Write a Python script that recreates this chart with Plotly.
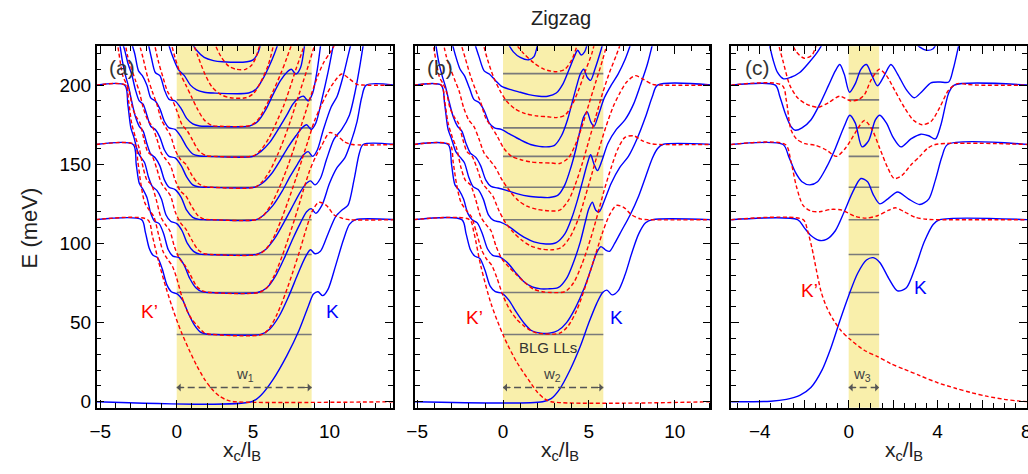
import plotly.graph_objects as go

# ---------------- data ----------------
BLG_LL = [42.5, 69, 93, 115, 135.5, 155, 173, 190.7, 207.3]   # gray BLG Landau levels (meV)
W_A, W_B, W_C = 8.83, 5.84, 1.37                              # strip widths (x_c / l_B)

# Panel (a): K valley (blue, solid), lists of (x_c/l_B, E[meV])
A_K0 = [(-5.3,0),(4.9,0),(5.5,4),(6.3,14),(7.2,29),(8.0,45),(8.6,60),(8.95,68),(9.25,69.5),(9.55,67),(9.9,71),(10.4,86),(10.9,102),(11.3,112),(11.7,115),(14.3,115)]
A_K1 = [(-5.3,115),(-2.3,115),(-2.05,107),(-1.8,97),(-1.55,92.5),(-1.25,91),(-0.95,84),(-0.65,74),(-0.35,69.5),(0.05,68),(0.4,64),(0.75,56),(1.15,48.5),(1.55,44),(2.0,42.6),(2.5,42.5),(5.5,42.5),(6.1,46),(6.7,54),(7.3,66),(7.9,80),(8.4,91),(8.75,96),(9.05,93.5),(9.4,95),(9.9,106),(10.4,117),(10.8,121),(11.2,124),(11.6,140),(11.95,157),(12.2,162.5),(14.3,162.5)]
A_K2 = [(-5.3,162.5),(-2.85,162.5),(-2.65,150),(-2.45,138),(-2.2,134),(-1.95,129),(-1.7,119),(-1.45,114),(-1.15,112.5),(-0.85,106),(-0.55,96),(-0.25,92),(0.15,91),(0.5,86),(0.85,78),(1.25,72),(1.65,69.5),(2.1,69),(5.3,69),(5.9,72),(6.5,80),(7.1,92),(7.6,103),(8.1,113),(8.5,120),(8.8,122),(9.1,119),(9.5,124),(10.0,138),(10.5,148),(11.0,154),(11.4,164),(11.8,177),(12.1,192),(12.4,200),(14.3,200)]
A_K3 = [(-5.3,200),(-3.4,200),(-3.2,188),(-3.0,173),(-2.8,167),(-2.55,158),(-2.35,154.5),(-2.1,151),(-1.85,142),(-1.6,136),(-1.3,133.5),(-1.0,128),(-0.7,118),(-0.4,114),(0.0,112.5),(0.35,108),(0.7,100),(1.1,95),(1.5,93.2),(2.0,93),(5.2,93),(5.8,96),(6.4,103),(7.0,113),(7.5,122),(8.0,131),(8.4,137),(8.75,139.5),(9.05,137),(9.4,141),(9.8,153),(10.3,166),(10.8,172),(11.3,181),(11.7,197),(12.0,213),(12.25,228)]
A_K4 = [(-3.75,228),(-3.55,215),(-3.35,206),(-3.15,199),(-2.95,190),(-2.7,180),(-2.45,174),(-2.2,171),(-1.95,163),(-1.7,156.5),(-1.4,154),(-1.1,149),(-0.8,140),(-0.5,135.5),(-0.1,134),(0.3,129),(0.65,121),(1.05,116.5),(1.45,115.2),(1.9,115),(5.2,115),(5.7,118),(6.3,124),(6.9,133),(7.4,142),(7.9,150),(8.3,156),(8.6,158),(8.9,155),(9.2,159),(9.6,172),(10.1,186),(10.5,193),(10.9,206),(11.2,218),(11.45,228)]
A_K5 = [(-3.6,228),(-3.4,222),(-3.2,214),(-2.95,207),(-2.7,197),(-2.45,190),(-2.2,188),(-1.95,181),(-1.7,174),(-1.4,172),(-1.1,167),(-0.8,159),(-0.5,155),(-0.1,154),(0.3,149),(0.65,142),(1.05,137),(1.45,135.7),(1.9,135.5),(5.1,135.5),(5.6,138),(6.2,144),(6.8,153),(7.3,161),(7.8,168),(8.2,173),(8.5,175),(8.8,172),(9.1,176),(9.5,191),(9.9,208),(10.3,228)]
A_K6 = [(-3.0,228),(-2.75,220),(-2.5,209),(-2.25,206),(-1.95,200),(-1.7,192),(-1.4,190),(-1.1,185),(-0.8,177),(-0.5,173),(-0.1,172),(0.3,167),(0.65,161),(1.05,156.5),(1.5,155.2),(2.0,155),(5.0,155),(5.5,158),(6.1,164),(6.7,173),(7.2,181),(7.6,188),(8.0,192),(8.3,193),(8.6,190),(8.9,195),(9.2,210),(9.45,228)]
A_K7 = [(-1.9,228),(-1.65,217),(-1.4,208),(-1.1,206),(-0.8,197),(-0.5,191),(-0.1,190),(0.3,185),(0.65,179),(1.05,175.5),(1.5,174.2),(2.0,174),(4.8,174.3),(5.3,177),(5.8,184),(6.3,194),(6.8,203),(7.2,208),(7.5,210),(7.8,207),(8.1,211),(8.4,228)]
A_K8 = [(-0.6,228),(-0.3,219),(0.1,210),(0.5,206),(0.9,200),(1.3,197),(1.8,195.5),(2.4,195),(4.7,195),(5.2,197.5),(5.7,205),(6.1,213),(6.4,220),(6.7,228)]
A_K9 = [(0.9,228),(1.3,222),(1.8,217.5),(2.4,215.5),(3.0,214.8),(4.6,214.8),(5.0,216),(5.3,220),(5.55,228)]

# Panel (a): K' valley (red, dashed)
A_P0 = [(-5.3,115),(-1.9,115),(-1.6,105),(-1.2,89),(-0.7,72),(-0.2,57),(0.3,44),(0.8,33),(1.3,23),(1.8,14.5),(2.3,8),(2.8,3.5),(3.3,1),(3.8,0),(14.3,0)]
A_P1 = [(-5.3,162.5),(-2.75,162.5),(-2.55,152),(-2.35,138),(-2.1,126),(-1.8,121),(-1.5,117),(-1.2,106),(-0.9,95),(-0.6,90),(-0.3,86),(0.0,78),(0.35,66),(0.7,57),(1.0,52),(1.35,48),(1.8,43.5),(2.3,42.5),(5.6,42.5),(6.1,47),(6.6,56),(7.1,68),(7.6,82),(8.1,97),(8.5,110),(8.9,121),(9.3,126),(9.8,124),(10.3,118),(10.8,116),(11.3,115),(14.3,115)]
A_P2 = [(-5.3,200),(-3.35,200),(-3.15,190),(-2.95,176),(-2.7,167),(-2.45,160),(-2.2,148),(-1.95,140),(-1.65,137),(-1.35,128),(-1.05,117),(-0.75,112),(-0.45,108),(-0.15,98),(0.2,90),(0.55,86),(0.9,80),(1.3,73),(1.7,70),(2.2,69),(5.4,69),(5.9,72),(6.4,80),(6.9,92),(7.4,106),(7.9,121),(8.3,134),(8.7,146),(9.1,155),(9.5,162),(10.0,170),(10.5,168),(11.0,164),(11.5,162.5),(14.3,162.5)]
A_P3 = [(-3.9,228),(-3.7,215),(-3.5,205),(-3.3,201),(-3.1,196),(-2.9,186),(-2.65,180),(-2.4,176),(-2.15,166),(-1.9,158),(-1.6,155),(-1.3,147),(-1.0,138),(-0.7,134),(-0.4,130),(-0.1,120),(0.25,113),(0.6,109),(1.0,102),(1.4,96),(1.8,93.5),(2.3,93),(5.3,93),(5.8,96),(6.3,103),(6.8,114),(7.3,127),(7.8,141),(8.2,153),(8.6,165),(9.0,177),(9.4,186),(9.8,194),(10.3,202),(10.8,207),(11.3,204),(11.8,200.5),(12.3,200),(14.3,200)]
A_P4 = [(-3.4,228),(-3.2,218),(-2.95,210),(-2.7,203),(-2.45,196),(-2.2,186),(-1.9,178),(-1.6,174),(-1.3,166),(-1.0,157),(-0.7,153),(-0.4,149),(-0.1,140),(0.25,133),(0.6,130),(1.0,123),(1.4,117.5),(1.8,115.3),(2.3,115),(5.2,115),(5.7,118),(6.2,125),(6.7,135),(7.2,147),(7.6,158),(8.0,170),(8.4,182),(8.8,194),(9.2,205),(9.6,214),(10.0,220),(10.5,228)]
A_P5 = [(-2.5,228),(-2.2,217),(-1.9,205),(-1.6,196),(-1.3,188),(-1.0,178),(-0.7,173),(-0.4,168),(-0.1,159),(0.25,153),(0.6,150),(1.0,143),(1.4,138),(1.8,136),(2.3,135.5),(5.1,135.5),(5.6,139),(6.1,146),(6.6,156),(7.1,168),(7.5,179),(7.9,191),(8.3,203),(8.7,215),(9.1,228)]
A_P6 = [(-1.5,228),(-1.2,215),(-0.9,205),(-0.6,196),(-0.3,191),(0.0,184),(0.35,175),(0.7,171),(1.05,165),(1.45,158.5),(1.9,155.5),(2.4,155),(5.0,155.3),(5.5,159),(6.0,166),(6.5,176),(7.0,187),(7.4,198),(7.8,210),(8.2,221),(8.4,228)]
A_P7 = [(-0.4,228),(-0.1,217),(0.25,207),(0.6,200),(0.95,193),(1.35,185),(1.8,178),(2.3,174.5),(2.9,174),(4.8,174.5),(5.3,178),(5.8,186),(6.3,196),(6.8,207),(7.2,217),(7.6,228)]
A_P8 = [(1.0,228),(1.4,218),(1.8,208),(2.3,199),(2.9,194),(3.5,192),(4.5,192),(5.0,194.5),(5.5,202),(6.0,213),(6.4,228)]
A_P9 = [(2.4,228),(2.9,218),(3.4,212),(3.9,210),(4.5,210),(4.9,212.5),(5.2,218),(5.5,228)]

# Panel (b): K valley
B_K0 = [(-5.2,0),(2.3,0),(2.8,2),(3.3,8),(3.9,20),(4.5,35),(5.0,50),(5.45,62),(5.8,69),(6.05,70.5),(6.35,67.5),(6.7,70),(7.1,80),(7.5,94),(7.9,106),(8.3,113),(8.7,115),(12.2,115)]
B_K1 = [(-5.2,115),(-2.4,115),(-2.15,106),(-1.9,96),(-1.65,92),(-1.35,90.5),(-1.05,83),(-0.75,73),(-0.45,69.5),(-0.05,68.5),(0.35,64),(0.75,57),(1.2,50),(1.65,45),(2.2,43.3),(2.7,43.3),(3.2,45),(3.7,50),(4.2,59),(4.7,71),(5.1,83),(5.45,94),(5.7,98),(5.95,96),(6.2,95),(6.5,100),(6.9,108),(7.4,118),(7.9,130),(8.3,142),(8.7,154),(9.0,160),(9.3,162.5),(12.2,162.5)]
B_K2 = [(-5.2,162.5),(-3.2,162.5),(-3.0,150),(-2.8,137),(-2.55,133.5),(-2.3,128),(-2.05,119),(-1.8,115),(-1.5,113),(-1.2,106),(-0.9,96.5),(-0.6,92.5),(-0.2,91.5),(0.25,88),(0.7,82),(1.2,76),(1.7,72.5),(2.2,71.3),(2.6,71.3),(3.2,72),(3.7,78),(4.1,88),(4.5,101),(4.8,114),(5.0,122),(5.2,126),(5.4,121),(5.6,120),(5.9,127),(6.3,138),(6.8,148),(7.3,155),(7.8,166),(8.3,180),(8.7,193),(9.0,200),(12.2,200)]
B_K3 = [(-5.2,200),(-3.6,200),(-3.4,188),(-3.2,172),(-3.0,166),(-2.75,158),(-2.5,154.5),(-2.25,151),(-2.0,142),(-1.75,136),(-1.45,134),(-1.15,128),(-0.85,118),(-0.55,114.5),(-0.15,113.5),(0.3,111),(0.8,107),(1.3,103.5),(1.8,101),(2.5,99.6),(3.1,100.5),(3.6,106),(4.0,116),(4.35,128),(4.65,140),(4.9,150),(5.1,156),(5.3,150),(5.5,146),(5.75,152),(6.1,163),(6.6,172),(7.1,178),(7.6,188),(8.0,200),(8.4,213),(8.75,228)]
B_K4 = [(-3.95,228),(-3.75,215),(-3.55,206),(-3.35,199),(-3.15,190),(-2.9,180),(-2.65,174),(-2.4,171),(-2.15,163),(-1.9,157),(-1.6,154.5),(-1.3,149),(-1.0,140),(-0.7,136),(-0.3,135),(0.2,133.5),(0.8,131.5),(1.5,129.8),(2.1,129.2),(2.7,129),(3.2,130.5),(3.6,137),(3.95,148),(4.25,160),(4.5,172),(4.7,180),(4.9,183),(5.1,177),(5.3,174),(5.55,181),(5.9,192),(6.3,200),(6.7,207),(7.1,216),(7.5,228)]
B_K5 = [(-3.0,228),(-2.75,218),(-2.5,210),(-2.25,206),(-1.95,198),(-1.7,191),(-1.4,189),(-1.1,184),(-0.8,176),(-0.5,173),(-0.1,172),(0.4,169),(1.0,165.5),(1.6,162.5),(2.1,161.3),(2.5,161),(3.0,162),(3.4,168),(3.75,178),(4.05,190),(4.3,200),(4.5,207),(4.7,210),(4.9,205),(5.1,203),(5.35,210),(5.7,222),(5.85,228)]
B_K6 = [(-1.7,228),(-1.4,218),(-1.1,209),(-0.8,207),(-0.45,203),(-0.05,199),(0.5,197),(1.0,195.5),(1.5,194),(2.1,193),(2.6,193),(3.1,195),(3.5,201),(3.85,210),(4.15,218),(4.35,222),(4.55,219),(4.75,221),(4.95,228)]
B_K7 = [(0.2,228),(0.6,221),(1.0,217.5),(1.5,216),(1.8,218),(2.05,228)]

# Panel (b): K' valley
B_P0 = [(-5.2,115),(-1.95,115),(-1.7,107),(-1.3,86),(-0.7,62),(0.05,41),(0.8,25),(1.6,12),(2.0,6),(2.4,2),(2.8,0),(12.2,0)]
B_P1 = [(-5.2,162.5),(-3.1,162.5),(-2.9,151),(-2.7,137),(-2.45,126),(-2.15,121),(-1.85,117),(-1.55,107),(-1.25,96),(-0.95,90),(-0.65,86),(-0.35,78),(0.0,67),(0.4,58),(0.8,52),(1.2,48),(1.6,45),(2.0,43.3),(3.3,43.3),(3.8,48),(4.3,58),(4.8,73),(5.3,90),(5.8,107),(6.2,118),(6.6,124),(7.0,123),(7.5,118),(8.0,115.5),(8.5,115),(12.2,115)]
B_P2 = [(-5.2,200),(-3.6,200),(-3.4,190),(-3.2,176),(-2.95,167),(-2.7,160),(-2.45,148),(-2.2,140),(-1.9,137),(-1.6,128),(-1.3,117),(-1.0,112),(-0.7,108),(-0.4,98),(-0.05,90),(0.35,85),(0.8,80),(1.3,75),(1.8,71),(2.3,69.5),(2.8,69),(3.6,69.5),(4.1,75),(4.6,87),(5.1,103),(5.5,118),(5.9,134),(6.3,148),(6.7,160),(7.1,167),(7.6,168),(8.1,165),(8.6,163),(9.1,162.5),(12.2,162.5)]
B_P3 = [(-4.1,228),(-3.9,215),(-3.7,205),(-3.5,201),(-3.3,196),(-3.1,186),(-2.85,180),(-2.6,176),(-2.35,166),(-2.1,158),(-1.8,155),(-1.5,147),(-1.2,138),(-0.9,134),(-0.6,130),(-0.25,121),(0.15,113),(0.6,107),(1.1,102),(1.6,98.5),(2.2,96.5),(2.9,96),(3.4,97.5),(3.9,104),(4.4,116),(4.8,130),(5.2,145),(5.6,160),(6.0,174),(6.4,186),(6.8,195),(7.2,202),(7.7,206),(8.2,203.5),(8.7,200.5),(9.2,200),(12.2,200)]
B_P4 = [(-3.5,228),(-3.3,218),(-3.05,210),(-2.8,203),(-2.55,196),(-2.3,186),(-2.0,178),(-1.7,174),(-1.4,166),(-1.1,157),(-0.8,153),(-0.45,148),(-0.05,140),(0.4,133),(0.9,127),(1.4,123.5),(2.0,121.5),(2.8,120.5),(3.3,121),(3.8,127),(4.2,137),(4.6,150),(5.0,165),(5.4,180),(5.8,195),(6.2,208),(6.6,219),(6.9,228)]
B_P5 = [(-2.5,228),(-2.2,217),(-1.9,206),(-1.6,197),(-1.3,189),(-1.0,179),(-0.7,174),(-0.35,168),(0.05,160),(0.5,155),(1.0,153),(1.6,151.5),(2.2,151),(2.8,150.8),(3.3,150.5),(3.8,154),(4.2,162),(4.6,174),(5.0,188),(5.4,202),(5.8,216),(6.1,228)]
B_P6 = [(-1.2,228),(-0.9,216),(-0.55,205),(-0.2,197),(0.2,190),(0.7,185),(1.3,182),(2.0,180.5),(2.6,180),(3.1,179.5),(3.6,181),(4.0,187),(4.4,197),(4.8,209),(5.2,221),(5.35,228)]
B_P7 = [(0.6,228),(1.2,220),(1.8,214),(2.4,210),(3.1,208.5),(3.6,210),(4.0,216),(4.4,228)]

# Panel (c): K valley
C_K0 = [(-5.3,0),(-3.5,0.3),(-2.8,1.5),(-2.2,4),(-1.7,9),(-1.2,20),(-0.8,34),(-0.4,51),(0.0,67),(0.4,81),(0.8,89.5),(1.1,91),(1.4,88),(1.8,78),(2.2,70),(2.6,72),(3.0,85),(3.4,101),(3.8,112),(4.1,115),(8.1,115)]
C_K1 = [(-5.3,115),(-2.3,115),(-2.0,110),(-1.7,105),(-1.35,102),(-1.0,102.5),(-0.6,108),(-0.2,120),(0.2,133),(0.55,141),(0.85,139),(1.1,131),(1.4,125),(1.75,128),(2.2,132.5),(2.7,128),(3.2,124.6),(3.6,128),(3.9,140),(4.2,155),(4.45,162.5),(8.1,162.5)]
C_K2 = [(-5.3,162.5),(-2.95,162.5),(-2.7,155),(-2.4,145),(-2.1,139),(-1.75,137),(-1.4,139),(-1.0,148),(-0.6,160),(-0.2,174),(0.05,181),(0.3,176),(0.6,161),(0.9,165),(1.2,178),(1.4,181),(1.7,176),(2.0,167),(2.35,161),(2.8,166),(3.25,169),(3.6,168),(3.9,166),(4.15,175),(4.5,195),(4.75,200),(8.1,200)]
C_K3 = [(-5.3,200),(-3.3,200),(-3.1,193),(-2.85,182),(-2.6,174),(-2.4,171.5),(-2.1,173),(-1.7,178),(-1.3,188),(-0.9,200),(-0.6,209),(-0.4,213),(-0.2,207),(0.04,195.5),(0.3,201),(0.55,210),(0.8,213),(1.05,206),(1.3,199.6),(1.6,206),(1.9,213),(2.2,207),(2.6,197),(2.95,192),(3.3,196),(3.7,201.5),(4.1,202),(4.5,202),(4.7,210),(4.9,222),(5.0,228)]
C_K4a = [(-3.6,228),(-3.4,216),(-3.2,208),(-2.93,204),(-2.6,205),(-2.2,208),(-1.8,214),(-1.4,221),(-1.1,228)]
C_K4b = [(2.9,228),(3.2,224),(3.5,222),(3.8,223),(4.0,228)]

# Panel (c): K' valley
C_P0 = [(-5.3,115),(-2.05,115),(-1.85,108),(-1.65,97),(-1.45,83),(-1.25,70),(-1.0,60),(-0.7,52),(-0.35,45),(0.1,39),(0.7,32.5),(1.3,28.5),(1.9,24),(2.5,20.5),(3.2,16.5),(4.0,12),(4.8,8.5),(5.5,5.8),(6.2,3.5),(7.0,1.5),(7.6,0.5),(8.1,0)]
C_P1 = [(-5.3,162.5),(-2.85,162.5),(-2.6,152),(-2.35,136),(-2.05,124),(-1.7,120.5),(-1.3,120),(-0.8,121.5),(-0.3,121),(0.3,117),(0.8,116),(1.3,117.5),(1.8,121),(2.1,122.5),(2.5,120),(3.0,116.5),(3.5,115.3),(4.0,115),(8.1,115)]
C_P2 = [(-5.3,200),(-3.0,200),(-2.8,190),(-2.6,172),(-2.35,166),(-1.96,163),(-1.5,162),(-1.0,159),(-0.55,155),(-0.1,161),(0.3,170),(0.71,177.7),(1.05,172),(1.4,160),(1.75,148),(2.05,141),(2.4,143),(2.8,149.6),(3.2,155),(3.54,160),(3.9,162.5),(8.1,162.5)]
C_P3 = [(-3.2,228),(-2.95,215),(-2.65,200),(-2.3,192),(-1.9,188),(-1.37,186),(-0.9,189),(-0.4,193),(0.1,190),(0.45,191),(0.71,194),(1.0,203),(1.38,210),(1.7,206),(2.1,196),(2.5,186),(2.9,178),(3.3,175),(3.7,177),(4.1,186),(4.5,197),(4.9,201),(5.3,200.5),(5.8,200),(8.1,200)]
C_P4 = [(-2.6,228),(-2.35,221),(-2.0,217),(-1.65,219),(-1.4,228)]

PANEL_A_K = [A_K0, A_K1, A_K2, A_K3, A_K4, A_K5, A_K6, A_K7, A_K8, A_K9]
PANEL_A_P = [A_P0, A_P1, A_P2, A_P3, A_P4, A_P5, A_P6, A_P7, A_P8, A_P9]
PANEL_B_K = [B_K0, B_K1, B_K2, B_K3, B_K4, B_K5, B_K6, B_K7]
PANEL_B_P = [B_P0, B_P1, B_P2, B_P3, B_P4, B_P5, B_P6, B_P7]
PANEL_C_K = [C_K0, C_K1, C_K2, C_K3, C_K4a, C_K4b]
PANEL_C_P = [C_P0, C_P1, C_P2, C_P3, C_P4]

# ---------------- styling ----------------
BLUE = "#0000ff"
RED = "#ff0000"
GRAY = "#7a7a7a"
YELLOW = "#f9efab"
FONT = "Liberation Sans, Arial, sans-serif"
YR = [-3.75, 224.6]

fig = go.Figure()

panels = [
    ("x", "y", W_A, PANEL_A_K, PANEL_A_P),
    ("x2", "y2", W_B, PANEL_B_K, PANEL_B_P),
    ("x3", "y3", W_C, PANEL_C_K, PANEL_C_P),
]

shapes = []
annotations = []
for xa, ya, w, kb, pb in panels:
    shapes.append(dict(type="rect", xref=xa, yref=ya + " domain", x0=0, x1=w, y0=0, y1=1,
                       fillcolor=YELLOW, line_width=0, layer="below"))
    gx, gy = [], []
    for e in BLG_LL:
        gx += [0, w, None]
        gy += [e, e, None]
    fig.add_trace(go.Scatter(x=gx, y=gy, mode="lines", xaxis=xa, yaxis=ya,
                             line=dict(color=GRAY, width=1.6), hoverinfo="skip"))
    for band in kb:
        fig.add_trace(go.Scatter(x=[p[0] for p in band], y=[p[1] for p in band], mode="lines",
                                 xaxis=xa, yaxis=ya, line=dict(color=BLUE, width=1.4, shape="spline", smoothing=0.8)))
    for band in pb:
        fig.add_trace(go.Scatter(x=[p[0] for p in band], y=[p[1] for p in band], mode="lines",
                                 xaxis=xa, yaxis=ya, line=dict(color=RED, width=1.4, dash="4px,2.5px",
                                                               shape="spline", smoothing=0.8)))
    fig.add_trace(go.Scatter(x=[0, w], y=[9, 9], mode="lines", xaxis=xa, yaxis=ya,
                             line=dict(color="#555555", width=1.3, dash="7px,4px")))
    for tip, off in ((0, 9), (w, -9)):
        annotations.append(dict(x=tip, y=9, xref=xa, yref=ya, ax=off, ay=0, showarrow=True,
                                arrowhead=1, arrowsize=1.1, arrowwidth=1.2, arrowcolor="#555555", text=""))

fig.update_layout(showlegend=False)

minor_style = dict(ticks="inside", ticklen=5, tickcolor="black", tickwidth=1.1)
common_x = dict(showline=True, linecolor="black", linewidth=1.5, mirror="ticks", ticks="inside",
                tickcolor="black", tickwidth=1.3, ticklen=8, showgrid=False, zeroline=False,
                ticklabelstandoff=6,
                tickfont=dict(family=FONT, size=19, color="black"))
common_y = dict(showline=True, linecolor="black", linewidth=1.5, mirror="ticks", ticks="inside",
                tickcolor="black", tickwidth=1.3, ticklen=8, showgrid=False, zeroline=False,
                tickfont=dict(family=FONT, size=19, color="black"),
                range=YR, tickvals=[0, 50, 100, 150, 200],
                minor=dict(minor_style, dtick=10, tick0=0))

fig.update_layout(
    width=1028, height=474, margin=dict(l=0, r=0, t=0, b=0),
    paper_bgcolor="white", plot_bgcolor="white",
    xaxis=dict(common_x, domain=[0.0869, 0.3774], range=[-5.24, 14.15], anchor="y",
               tickvals=[-5, 0, 5, 10], minor=dict(minor_style, dtick=1, tick0=0)),
    xaxis2=dict(common_x, domain=[0.3988, 0.6887], range=[-5.14, 12.08], anchor="y2",
                tickvals=[-5, 0, 5, 10], minor=dict(minor_style, dtick=1, tick0=0)),
    xaxis3=dict(common_x, domain=[0.7091, 0.9990], range=[-5.28, 8.02], anchor="y3",
                tickvals=[-4, -2, 0, 2, 4, 6, 8], ticktext=["\u22124", "", "0", "", "4", "", ""],
                minor=dict(minor_style, dtick=0.5, tick0=0)),
    yaxis=dict(common_y, domain=[0.1308, 0.9015], anchor="x"),
    yaxis2=dict(common_y, domain=[0.1308, 0.9015], anchor="x2", showticklabels=False),
    yaxis3=dict(common_y, domain=[0.1308, 0.9015], anchor="x3", showticklabels=False),
)

def txt(text, x, y, xref, yref, size, color, **kw):
    d = dict(text=text, x=x, y=y, xref=xref, yref=yref, showarrow=False,
             xanchor="center", yanchor="middle",
             font=dict(family=FONT, size=size, color=color))
    d.update(kw)
    annotations.append(d)

# "8" tick label of panel (c): the reference shows it partly cut by the right page edge
txt("8", 8, (474 - 436) / 474, "x3", "paper", 19, "black")

# title + axis titles
txt("Zigzag", 557 / 1028, (474 - 18) / 474, "paper", "paper", 20, "#222222")
txt("E (meV)", 22 / 1028, (474 - 230) / 474, "paper", "paper", 22, "#222222", textangle=-90)
for xc in (236, 556, 903):
    txt("x<sub>c</sub>/l<sub>B</sub>", xc / 1028, (474 - 456) / 474, "paper", "paper", 21, "#222222")

# panel labels, valley labels, widths
for xa, ya, lbl, lx in (("x", "y", "(a)", -3.55), ("x2", "y2", "(b)", -3.7), ("x3", "y3", "(c)", -4.1)):
    txt(lbl, lx, 211, xa, ya, 21, "#333333")
txt("K\u2019", -1.75, 57, "x", "y", 19, RED)
txt("K", 10.2, 57, "x", "y", 19, BLUE)
txt("K\u2019", -1.68, 53, "x2", "y2", 19, RED)
txt("K", 6.6, 53, "x2", "y2", 19, BLUE)
txt("K\u2019", -1.74, 70, "x3", "y3", 19, RED)
txt("K", 3.25, 72, "x3", "y3", 19, BLUE)
txt("BLG LLs", 2.6, 34, "x2", "y2", 15, "#333333")
txt("w<sub>1</sub>", 4.5, 17, "x", "y", 15, "#444444")
txt("w<sub>2</sub>", 2.85, 17, "x2", "y2", 15, "#444444")
txt("w<sub>3</sub>", 0.6, 17, "x3", "y3", 15, "#444444")

fig.update_layout(shapes=shapes, annotations=annotations)
fig.write_html("out.html")
